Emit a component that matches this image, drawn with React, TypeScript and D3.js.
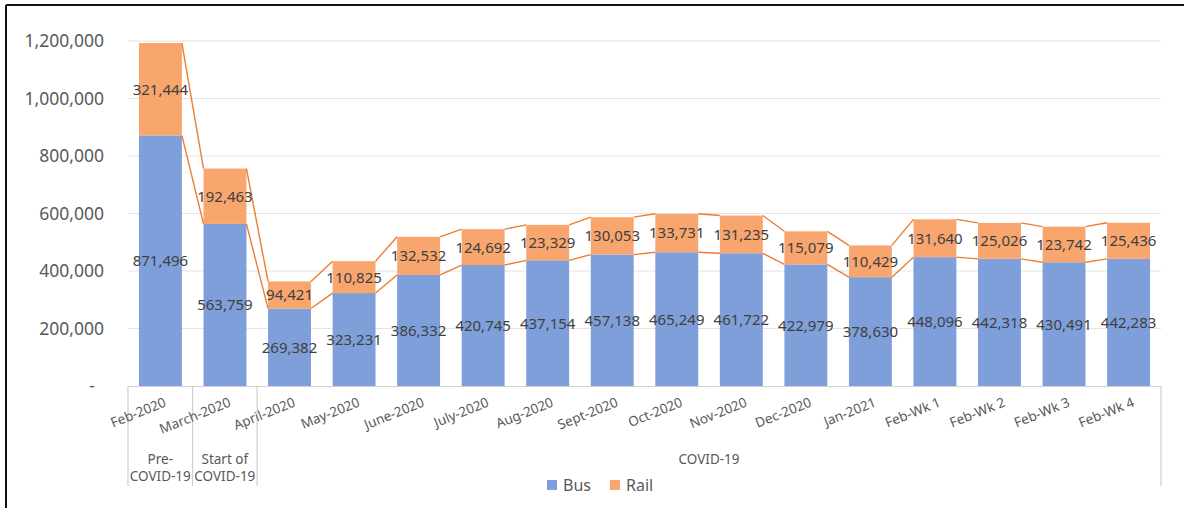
import { useEffect } from "react";
import * as d3 from "d3";

const categories = [
  "Feb-2020", "March-2020", "April-2020", "May-2020", "June-2020", "July-2020",
  "Aug-2020", "Sept-2020", "Oct-2020", "Nov-2020", "Dec-2020", "Jan-2021",
  "Feb-Wk 1", "Feb-Wk 2", "Feb-Wk 3", "Feb-Wk 4",
];
const bus = [
  871496, 563759, 269382, 323231, 386332, 420745, 437154, 457138,
  465249, 461722, 422979, 378630, 448096, 442318, 430491, 442283,
];
const rail = [
  321444, 192463, 94421, 110825, 132532, 124692, 123329, 130053,
  133731, 131235, 115079, 110429, 131640, 125026, 123742, 125436,
];
const yTicks = [0, 200000, 400000, 600000, 800000, 1000000, 1200000];
// group rows under the category axis: label lines, first and last index
const groups: { lines: string[]; from: number; to: number }[] = [
  { lines: ["Pre-", "COVID-19"], from: 0, to: 0 },
  { lines: ["Start of", "COVID-19"], from: 1, to: 1 },
  { lines: ["COVID-19"], from: 2, to: 15 },
];

const W = 1184, H = 508;
const BUS = "#7f9fdb";
const RAIL = "#f8a66e";
const LINE = "#ed7d31";
const TXT = "#404040";
const AX = "#595959";
const FONT = "'Noto Sans', 'Open Sans', sans-serif";

export default function App() {
  useEffect(() => {
    document.body.style.margin = "0";
  }, []);

  const x = d3.scaleBand<string>().domain(categories).range([128, 1161]).paddingInner(0.335).paddingOuter(0.17);
  const y = d3.scaleLinear().domain([0, 1200000]).range([386, 41]);
  const bw = x.bandwidth();
  const fmt = d3.format(",");
  const cx = (c: string) => (x(c) ?? 0) + bw / 2;
  const sepEdge = (i: number) => 128 + ((1161 - 128) / categories.length) * i;

  const busTop = (i: number) => y(bus[i]);
  const totTop = (i: number) => y(bus[i] + rail[i]);

  return (
    <svg width={W} height={H} style={{ display: "block", fontFamily: FONT }}>
      <rect x={0} y={0} width={W} height={H} fill="#fff" />
      {/* frame */}
      <line x1={6} x2={W} y1={5} y2={5} stroke="#111" strokeWidth={2} />
      <line x1={6} x2={6} y1={5} y2={H} stroke="#111" strokeWidth={2} />

      {/* grid */}
      {yTicks.slice(1).map(t => (
        <line key={t} x1={128} x2={1161} y1={y(t)} y2={y(t)} stroke="#e4e4e4" strokeWidth={1} />
      ))}

      {/* y labels */}
      {yTicks.map(t => (
        <text key={t} x={t === 0 ? 95 : 104} y={y(t)} dy="0.36em" textAnchor="end"
          fontSize={17.5} fill={AX}>{t === 0 ? "-" : fmt(t)}</text>
      ))}

      {/* bars */}
      {categories.map((c, i) => (
        <g key={c}>
          <rect x={x(c)} y={busTop(i)} width={bw} height={y(0) - busTop(i)} fill={BUS} />
          <rect x={x(c)} y={totTop(i)} width={bw} height={busTop(i) - totTop(i)} fill={RAIL} />
        </g>
      ))}

      {/* series lines */}
      {categories.slice(0, -1).map((c, i) => {
        const x1 = (x(c) ?? 0) + bw;
        const x2 = x(categories[i + 1]) ?? 0;
        return (
          <g key={c} stroke={LINE} strokeWidth={1.4}>
            <line x1={x1} x2={x2} y1={busTop(i)} y2={busTop(i + 1)} />
            <line x1={x1} x2={x2} y1={totTop(i)} y2={totTop(i + 1)} />
          </g>
        );
      })}

      {/* data labels */}
      {categories.map((c, i) => (
        <g key={c} fontSize={15} fill={TXT} textAnchor="middle">
          <text x={cx(c)} y={(busTop(i) + y(0)) / 2} dy="0.36em">{fmt(bus[i])}</text>
          <text x={cx(c)} y={(busTop(i) + totTop(i)) / 2} dy="0.36em">{fmt(rail[i])}</text>
        </g>
      ))}

      {/* category axis */}
      <line x1={128} x2={1161} y1={386.5} y2={386.5} stroke="#d0d0d0" />
      {[0, 1, 2, 16].map(i => (
        <line key={i} x1={sepEdge(i)} x2={sepEdge(i)} y1={386} y2={486} stroke="#cfcfcf" strokeWidth={1.2} />
      ))}
      {categories.map(c => (
        <text key={c} transform={`translate(${cx(c) + 3},${397}) rotate(-22)`}
          textAnchor="end" dy="0.71em" fontSize={13.5} fill={AX}>{c}</text>
      ))}
      {groups.map(g => {
        const mid = (sepEdge(g.from) + sepEdge(g.to + 1)) / 2;
        return (
          <text key={g.from} x={mid} y={460} textAnchor="middle" fontSize={13.5} fill={AX}>
            {g.lines.map((l, k) => (
              <tspan key={k} x={mid} dy={k === 0 ? 0 : 17} dominantBaseline="middle">{l}</tspan>
            ))}
          </text>
        );
      })}

      {/* legend */}
      <rect x={547} y={480} width={10} height={10} fill={BUS} />
      <text x={563} y={485} dy="0.36em" fontSize={16} fill={AX}>Bus</text>
      <rect x={610} y={480} width={10} height={10} fill={RAIL} />
      <text x={626} y={485} dy="0.36em" fontSize={16} fill={AX}>Rail</text>
    </svg>
  );
}
